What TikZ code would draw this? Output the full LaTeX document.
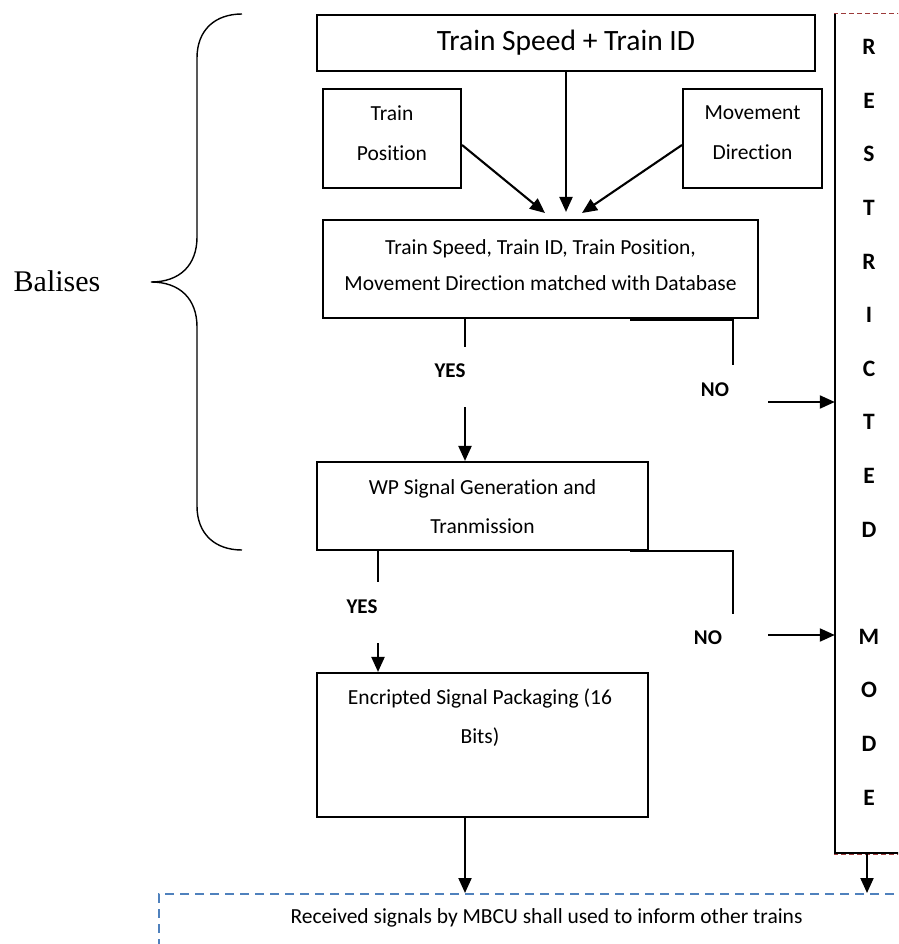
\documentclass[tikz,border=0pt]{standalone}
\usepackage{fontspec}
\setmainfont{Carlito}[Ligatures=NoCommon]
\newfontfamily\balisefont{Liberation Serif}
\usetikzlibrary{arrows.meta}
\definecolor{mbcublue}{HTML}{4F81BD}
\definecolor{modered}{HTML}{9C3A3A}

\begin{document}
\begin{tikzpicture}[x=1pt,y=-1pt,
  box/.style={draw, line width=2.1pt, inner sep=0pt},
  body/.style={align=center, inner sep=0pt, font=\fontsize{21.5}{39}\selectfont},
  flow/.style={line width=2.1pt},
  arr/.style={flow, -{Triangle[length=15pt,width=13pt]}},
  lbl/.style={inner sep=0pt, font=\bfseries\fontsize{21}{24}\selectfont},
  letter/.style={inner sep=0pt, font=\bfseries\fontsize{23.5}{26}\selectfont},
]
\useasboundingbox (0,0) rectangle (898,944);
\clip (0,0) rectangle (898,944);
\fill[white] (0,0) rectangle (898,944);

% ---- balise brace ----
\draw[line width=1.4pt]
  (242,14) .. controls (215,14) and (197,30) .. (197,58) -- (197,237)
  .. controls (197,265) and (180,282) .. (151,282)
  .. controls (180,282) and (197,299) .. (197,327) -- (197,506)
  .. controls (197,534) and (215,550) .. (242,550);
\node[inner sep=0pt, font=\balisefont\fontsize{30}{34}\selectfont] (balises) at (57,281) {Balises};

% ---- input boxes ----
\node[box, minimum width=498pt, minimum height=56pt, font=\fontsize{29.5}{34}\selectfont] (speed) at (566,43) {Train Speed + Train ID};
\node[box, minimum width=138pt, minimum height=99pt] (pos) at (392,138.5) {};
\node[body, font=\fontsize{21.5}{40}\selectfont] (posT) at (392,133) {Train\\Position};
\node[box, minimum width=139pt, minimum height=99pt] (dir) at (752.5,138.5) {};
\node[body, font=\fontsize{21.5}{40}\selectfont] (dirT) at (752.5,133) {Movement\\Direction};

% ---- processing boxes ----
\node[box, minimum width=435pt, minimum height=98pt] (match) at (540.5,269) {};
\node[body, font=\fontsize{21.5}{36}\selectfont] (matchT) at (540.5,265) {Train Speed, Train ID, Train Position,\\Movement Direction matched with Database};
\node[box, minimum width=331pt, minimum height=88pt] (wp) at (482.5,506) {};
\node[body] (wpT) at (482.5,506.5) {WP Signal Generation and\\Tranmission};
\node[box, minimum width=331pt, minimum height=144pt] (enc) at (482.5,745) {};
\node[body] (encT) at (480,717.5) {Encripted Signal Packaging (16\\Bits)};

% ---- restricted mode column ----
\node[minimum width=100pt, minimum height=839pt, inner sep=0pt] (rmode) at (885,433.5) {};
\draw[modered, line width=0.6pt, dash pattern=on 5pt off 3pt]
  ([shift={(-0.8pt,0.5pt)}]rmode.north west) rectangle ([shift={(0pt,-0.8pt)}]rmode.south east);
\draw[line width=2.1pt] (rmode.north west) -- (rmode.south west) -- (rmode.south east);
\foreach \ch/\k in {R/0,E/1,S/2,T/3,R/4,I/5,C/6,T/7,E/8,D/9,M/11,O/12,D/13,E/14}
  \node[letter] (ltr\k) at (869,47+53.6*\k) {\ch};

% ---- receiving side ----
\node[draw=mbcublue, line width=2.2pt, dash pattern=on 9pt off 6pt, inner sep=0pt,
      minimum width=800pt, minimum height=200pt, anchor=north west] (mbcu) at (158,893) {};
\node[body] (mbcuT) at (546.5,918) {Received signals by MBCU shall used to inform other trains};

% ---- connectors into the matching stage ----
\coordinate (tipL) at (545,213);
\coordinate (tipR) at (582,213);
\draw[arr, shorten >=7pt] (speed.south) -- (speed.south |- match.north);
\draw[arr] ([yshift=-6.5pt]pos.east) -- (tipL);
\draw[arr] ([yshift=-6.5pt]dir.west) -- (tipR);

% ---- first decision ----
\coordinate (yes1a) at (465,347);
\coordinate (yes1b) at (465,407);
\draw[flow] (yes1a |- match.south) -- (yes1a);
\node[lbl] (yes1) at (450,371) {YES};
\draw[arr] (yes1b) -- (yes1b |- wp.north);

\coordinate (no1a) at (630,320);
\coordinate (no1b) at (733,320);
\coordinate (no1c) at (733,365);
\coordinate (no1d) at (768,402);
\draw[flow] (no1a) -- (no1b) -- (no1c);
\node[lbl] (no1) at (715,390) {NO};
\draw[arr] (no1d) -- (no1d -| rmode.west);

% ---- second decision ----
\coordinate (yes2a) at (378,582);
\coordinate (yes2b) at (378,643);
\draw[flow] (yes2a |- wp.south) -- (yes2a);
\node[lbl] (yes2) at (362,607) {YES};
\draw[arr] (yes2b) -- (yes2b |- enc.north);

\coordinate (no2a) at (630,551);
\coordinate (no2b) at (733,551);
\coordinate (no2c) at (733,614);
\coordinate (no2d) at (768,635);
\draw[flow] (no2a) -- (no2b) -- (no2c);
\node[lbl] (no2) at (708,638) {NO};
\draw[arr] (no2d) -- (no2d -| rmode.west);

% ---- outputs to the MBCU ----
\draw[arr] ([xshift=-17.5pt]enc.south) -- ([xshift=-17.5pt]enc.south |- mbcu.north);
\draw[arr] ([xshift=-18pt]rmode.south) -- ([xshift=-18pt]rmode.south |- mbcu.north);
\end{tikzpicture}
\end{document}
